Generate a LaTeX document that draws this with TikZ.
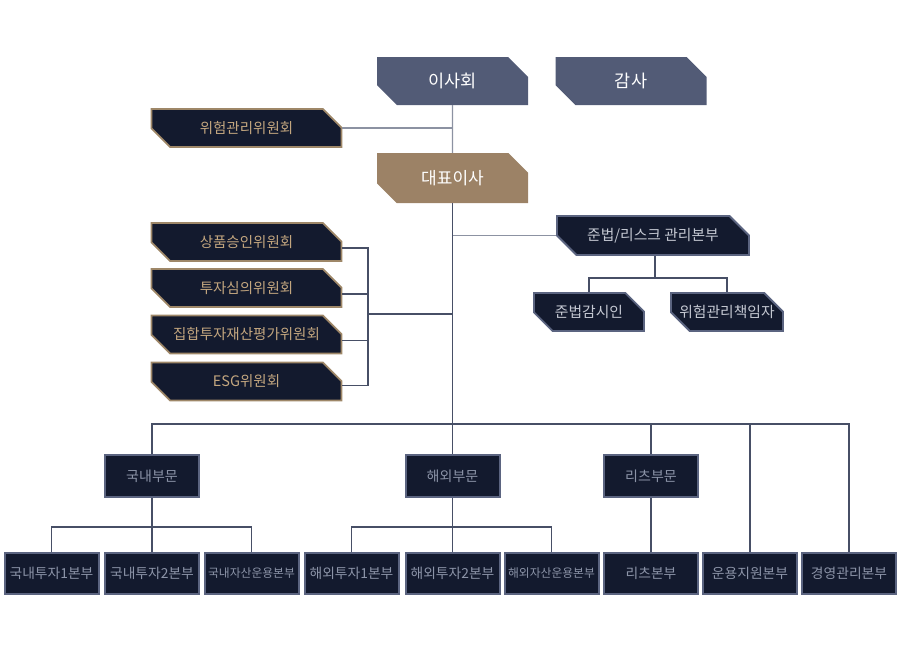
\documentclass[tikz,border=0pt]{standalone}
\usepackage{fontspec}
\setmainfont{Noto Sans CJK KR}
\usetikzlibrary{shapes.misc,positioning}
\definecolor{navy}{HTML}{131A2E}
\definecolor{slate}{HTML}{525B76}
\definecolor{bronze}{HTML}{9C8266}
\definecolor{goldline}{HTML}{9E8768}
\definecolor{goldtext}{HTML}{C3A67F}
\definecolor{greyline}{HTML}{5B6480}
\definecolor{greytext}{HTML}{8C94A8}
\definecolor{paletext}{HTML}{C4C8D2}
\definecolor{wire}{HTML}{474F66}
\definecolor{wirelight}{HTML}{8C92A2}

\begin{document}
\begin{tikzpicture}
[x=1pt,y=-1pt,
cut/.style = {chamfered rectangle, chamfered rectangle corners={north east,south west}, chamfered rectangle xsep=12pt, chamfered rectangle ysep=12pt, inner sep=0pt},
topbox/.style = {cut, fill=slate, text=white, minimum width=151pt, minimum height=48pt, font=\fontsize{17.5}{20}\selectfont},
ceobox/.style = {cut, fill=bronze, text=white, minimum width=151pt, minimum height=50pt, font=\fontsize{17}{20}\selectfont},
combox/.style = {cut, draw=goldline, line width=1.8pt, fill=navy, text=goldtext, minimum width=190pt, minimum height=38pt, font=\fontsize{14.5}{17}\selectfont},
hqbox/.style = {cut, draw=greyline, line width=1.8pt, fill=navy, text=paletext, minimum height=38pt, font=\fontsize{14.8}{17}\selectfont},
divbox/.style = {rectangle, draw=greyline, line width=2pt, fill=navy, text=greytext, minimum width=94pt, minimum height=42pt, inner sep=0pt, font=\fontsize{14}{16}\selectfont},
basebox/.style = {rectangle, draw=greyline, line width=2pt, fill=navy, text=greytext, minimum width=94pt, minimum height=41pt, inner sep=0pt, font=\fontsize{13.8}{16}\selectfont},
narrow/.style = {font=\fontsize{11.8}{14}\selectfont},
link/.style = {draw=wire, line width=1.2pt},
linklight/.style = {draw=wirelight, line width=1.2pt},]
\useasboundingbox (0,0) rectangle (900,662);
% top
\node (board) at (452.5,81)[topbox] {이사회};
\node (audit) at (631,81)[topbox] {감사};
\node (riskcom) at (246.5,128)[combox] {위험관리위원회};
\node (ceo) at (452.5,178)[ceobox] {대표이사};
% committees
\node (com1) at (246.5,242)[combox] {상품승인위원회};
\node (com2) at (246.5,288)[combox] {투자심의위원회};
\node (com3) at (246.5,334.5)[combox] {집합투자재산평가위원회};
\node (com4) at (246.5,381.5)[combox] {ESG위원회};
% compliance
\node (comp) at (653,235.5)[hqbox,minimum width=192pt] {준법/리스크 관리본부};
\node (officer) at (589,312)[hqbox,minimum width=110pt] {준법감시인};
\node (riskofficer) at (727,312)[hqbox,minimum width=112pt] {위험관리책임자};
% divisions
\node (domestic) at (152,476)[divbox] {국내부문};
\node (overseas) at (452.5,476)[divbox] {해외부문};
\node (reits) at (651,476)[divbox] {리츠부문};
% bottom units
\node (dom1) at (51.5,573.5)[basebox] {국내투자1본부};
\node (dom2) at (152,573.5)[basebox] {국내투자2본부};
\node (dom3) at (251.5,573.5)[basebox,narrow] {국내자산운용본부};
\node (ovs1) at (351.5,573.5)[basebox] {해외투자1본부};
\node (ovs2) at (452.5,573.5)[basebox] {해외투자2본부};
\node (ovs3) at (551.5,573.5)[basebox,narrow] {해외자산운용본부};
\node (reitshq) at (651,573.5)[basebox] {리츠본부};
\node (support) at (750,573.5)[basebox] {운용지원본부};
\node (mgmt) at (849,573.5)[basebox] {경영관리본부};
\coordinate (bus) at (452.5,424);
\coordinate (brk) at (368,314);
\coordinate (cbus) at (655,278);
\coordinate (dbus) at (152,527);
\coordinate (obus) at (452.5,527);
% lines
\draw[linklight] (board) -- (ceo);
\draw[linklight] (riskcom.east) -- (riskcom.east -| board);
\draw[linklight] (comp.west) -- (comp.west -| ceo);
\draw[link] (ceo) -- (overseas);
\draw[link] ([yshift=-6pt]com1.east) -| (brk) |- ([yshift=-4pt]com4.east);
\draw[link] ([yshift=-6pt]com2.east) -| (brk);
\draw[link] ([yshift=-6pt]com3.east) -| (brk);
\draw[link] (brk) -- (brk -| ceo);
\draw[link] (comp.south -| cbus) -- (cbus);
\draw[link] (officer.north) |- (cbus) -| (riskofficer.north);
\draw[link] (domestic.north) |- (bus) -| (mgmt.north);
\draw[link] (reits.north) -- (reits.north |- bus);
\draw[link] (support.north) -- (support.north |- bus);
\draw[link] (domestic) -- (dom2);
\draw[link] (dom1.north) |- (dbus) -| (dom3.north);
\draw[link] (overseas) -- (ovs2);
\draw[link] (ovs1.north) |- (obus) -| (ovs3.north);
\draw[link] (reits) -- (reitshq);
\end{tikzpicture}
\end{document}
